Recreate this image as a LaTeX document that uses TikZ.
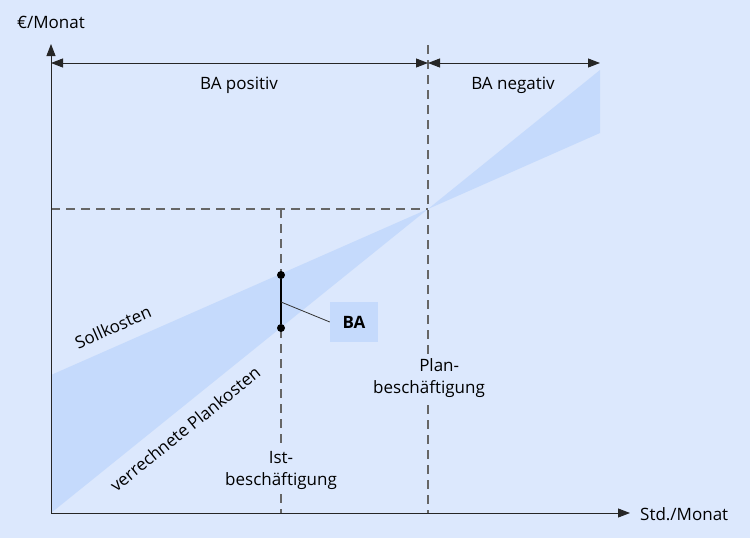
\documentclass[tikz,border=0pt]{standalone}
\usepackage{fontspec}
\setmainfont{Open Sans}
\usetikzlibrary{arrows.meta}
\definecolor{bg}{HTML}{DCE8FD}
\definecolor{band}{HTML}{C5DAFC}
\definecolor{dash}{HTML}{666666}
\begin{document}
\begin{tikzpicture}[x=1pt,y=-1pt,
  lbl/.style={font=\fontsize{17}{22}\selectfont, text=black, inner sep=1pt},
  axis/.style={draw=black!85, line width=0.9pt, -{Triangle[length=12pt,width=9pt]}},
  dim/.style={draw=black!85, line width=0.9pt, {Triangle[length=12pt,width=9pt]}-{Triangle[length=12pt,width=9pt]}},
  dsh/.style={draw=dash, line width=1.1pt, dash pattern=on 9pt off 6pt},
  dot/.style={circle, fill=black, inner sep=0pt, minimum size=8pt}]
\fill[bg] (0,0) rectangle (750,538);
\useasboundingbox (0,0) rectangle (750,538);
% coordinates
\coordinate (O) at (51,513);
\coordinate (S0) at (51,375);
\coordinate (X) at (428,209);
\coordinate (S1) at (600,133);
\coordinate (P1) at (600,70);
% bands
\fill[band] (S0) -- (O) -- (X) -- cycle;
\fill[band] (X) -- (P1) -- (S1) -- cycle;
% dashed lines
\coordinate (Ytop) at (428,45);
\coordinate (Ybot) at (428,513);
\coordinate (Iy) at (281,209);
\coordinate (Ib) at (281,513);
\coordinate (Hl) at (51,209);
\draw[dsh] (Ytop) -- (Ybot);
\draw[dsh] (Hl) -- (X);
\draw[dsh] (Iy) -- (Ib);
% axes
\coordinate (Yend) at (51,44);
\coordinate (Xend) at (630,513);
\draw[axis] (O) -- (Yend);
\draw[axis] (O) -- (Xend);
% dimension arrows
\coordinate (D0) at (51,63);
\coordinate (D1) at (428,63);
\coordinate (D2) at (600,63);
\draw[dim] (D0) -- (D1);
\draw[dim] (D1) -- (D2);
% BA
\node[dot] (a) at (281,275) {};
\node[dot] (b) at (281,328) {};
\draw[line width=2.2pt] (a) -- (b);
\coordinate (m) at (281,302);
\node[fill=band, minimum width=48pt, minimum height=40pt, font=\fontsize{17}{22}\selectfont\bfseries] (ba) at (354,322) {BA};
\draw[line width=0.8pt, black!80] (m) -- (ba.west);
% labels
\node[lbl] (ey) at (51,22) {€/Monat};
\node[lbl, anchor=west] (sx) at (639,514) {Std./Monat};
\node[lbl] (bp) at (239,85) {BA positiv};
\node[lbl] (bn) at (513,85) {BA negativ};
\node[lbl, fill=bg, align=center, inner sep=3pt] (pb) at (429,378) {\hspace*{1.2em}Plan-\\beschäftigung};
\node[lbl, fill=bg, align=center, inner sep=3pt] (ib) at (281,470) {Ist-\\beschäftigung};
\node[lbl, rotate=23.8] (sk) at (113,327) {Sollkosten};
\node[lbl, rotate=38.9] (vp) at (185,429) {verrechnete Plankosten};
\end{tikzpicture}
\end{document}
